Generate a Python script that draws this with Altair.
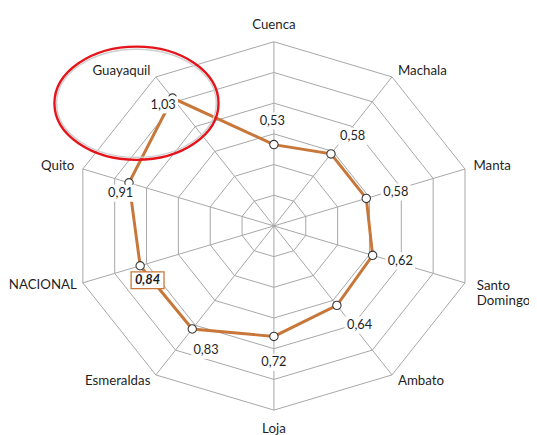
import altair as alt
import pandas as pd

# ---------------- data ----------------
categories = ["Cuenca", "Machala", "Manta", "Santo\nDomingo", "Ambato",
              "Loja", "Esmeraldas", "NACIONAL", "Quito", "Guayaquil"]
values = [0.53, 0.58, 0.58, 0.62, 0.64, 0.72, 0.83, 0.84, 0.91, 1.03]
value_labels = ["0,53", "0,58", "0,58", "0,62", "0,64",
                "0,72", "0,83", "0,84", "0,91", "1,03"]
grid_levels = [0.2, 0.4, 0.6, 0.8, 1.0, 1.2]
R_MAX = 1.2

# ---------------- styling (pixel offsets of labels) ----------------
W, H = 408, 374
PX_X = W / (2 * R_MAX)
PX_Y = H / (2 * R_MAX)
label_dx = [-1.7, 22, 30, 28, 23, 0, 14, 7.5, -8.5, -9.5]
label_dy = [-24, -18, -6.5, 5.6, 20, 26.4, 21.6, 14.7, 10.6, 6.9]
cat_align = ["center", "left", "left", "left", "left",
             "center", "right", "right", "right", "right"]
cat_dx = [0, 6, 8.6, 12, 6, 0, -5.5, -6, -8.6, -5.5]
cat_dy = [-16.6, -6, -2.5, 3, 6.7, 19, 6.7, 2.6, -2.5, -5.7]

FONT = "Lato"
TXT = "#1f1f1f"
GRID = "#a6a6a6"
ORANGE = "#c8773a"

n = len(categories)
df = pd.DataFrame({
    "cat": categories, "value": values, "label": value_labels,
    "idx": list(range(n)), "ldx": label_dx, "ldy": label_dy,
    "calign": cat_align, "cdx": cat_dx, "cdy": cat_dy,
})
line_df = pd.concat([df, df.iloc[[0]].assign(idx=n)], ignore_index=True)

grid_df = pd.DataFrame(
    [{"level": lv, "idx": k} for lv in grid_levels for k in range(n + 1)]
)

ANG = f"datum.idx * 2 * PI / {n}"
xs = alt.Scale(domain=[-R_MAX, R_MAX], nice=False, zero=False)
ys = alt.Scale(domain=[-R_MAX, R_MAX], nice=False, zero=False)


def X(f):
    return alt.X(f"{f}:Q", scale=xs, axis=None)


def Y(f):
    return alt.Y(f"{f}:Q", scale=ys, axis=None)


# grid decagons
grid = alt.Chart(grid_df).transform_calculate(
    gx=f"datum.level * sin({ANG})", gy=f"datum.level * cos({ANG})"
).mark_line(color=GRID, strokeWidth=1).encode(
    x=X("gx"), y=Y("gy"), detail="level:N", order="idx:Q"
)

# spokes
spokes = alt.Chart(df).transform_calculate(
    z="0", sx=f"{R_MAX} * sin({ANG})", sy=f"{R_MAX} * cos({ANG})"
).mark_rule(color=GRID, strokeWidth=1).encode(
    x=X("z"), y=Y("z"), x2="sx:Q", y2="sy:Q"
)


def pts_base(d):
    return alt.Chart(d).transform_calculate(
        px=f"datum.value * sin({ANG})", py=f"datum.value * cos({ANG})",
        lx=f"datum.value * sin({ANG}) + datum.ldx / {PX_X}",
        ly=f"datum.value * cos({ANG}) - datum.ldy / {PX_Y}",
    )


line = pts_base(line_df).mark_line(color=ORANGE, strokeWidth=3).encode(
    x=X("px"), y=Y("py"), order="idx:Q"
)

points = pts_base(df).mark_point(
    filled=True, fill="white", stroke="#3a3a3a", strokeWidth=1.1,
    size=72, opacity=1
).encode(x=X("px"), y=Y("py"))

box_path = "M-1,-0.58L1,-0.58L1,0.58L-1,0.58Z"
label_bg = pts_base(df).transform_filter("datum.cat != 'NACIONAL'").mark_point(
    shape=box_path, size=900, filled=True, fill="white", opacity=1,
    strokeWidth=0
).encode(x=X("lx"), y=Y("ly"))

nac_box = pts_base(df).transform_filter("datum.cat == 'NACIONAL'").mark_point(
    shape="M-1,-0.51L1,-0.51L1,0.51L-1,0.51Z", size=1116, filled=False,
    fill="white", fillOpacity=1, stroke=ORANGE, strokeWidth=1.3, opacity=1
).encode(x=X("lx"), y=Y("ly"))

labels = pts_base(df).transform_filter("datum.cat != 'NACIONAL'").mark_text(
    font=FONT, fontSize=13, color=TXT, align="center", baseline="middle"
).encode(x=X("lx"), y=Y("ly"), text="label:N")

nac_label = pts_base(df).transform_filter("datum.cat == 'NACIONAL'").mark_text(
    font=FONT, fontSize=13, color="#1a1a1a", align="center", baseline="middle",
    fontWeight="bold", fontStyle="italic"
).encode(x=X("lx"), y=Y("ly"), text="label:N")

cat_layers = []
for al in ["left", "center", "right"]:
    cat_layers.append(
        alt.Chart(df).transform_filter(f"datum.calign == '{al}'").transform_calculate(
            cx=f"{R_MAX} * sin({ANG}) + datum.cdx / {PX_X}",
            cy=f"{R_MAX} * cos({ANG}) - datum.cdy / {PX_Y}",
        ).mark_text(
            font=FONT, fontSize=13.5, color=TXT, align=al, baseline="middle",
            lineBreak="\n", lineHeight=16
        ).encode(x=X("cx"), y=Y("cy"), text="cat:N")
    )

# annotation ellipse around Guayaquil
U = 57.5
ell_size = (2 * U) ** 2


def ell_path(rx, ry, cx, cy):
    return (f"M{cx - rx:.3f},{cy:.3f} A{rx:.3f},{ry:.3f} 0 1,0 {cx + rx:.3f},{cy:.3f} "
            f"A{rx:.3f},{ry:.3f} 0 1,0 {cx - rx:.3f},{cy:.3f} Z")


guay = pts_base(df).transform_filter("datum.cat == 'Guayaquil'")
ell_shadow = guay.mark_point(
    shape=ell_path(1.41, 0.955, -0.637, 0.092), size=ell_size, filled=False,
    stroke="#cfcfcf", strokeWidth=1.5, opacity=1
).encode(x=X("px"), y=Y("py"))
ellipse = guay.mark_point(
    shape=ell_path(1.449, 1.0, -0.637, 0.092), size=ell_size, filled=False,
    stroke="#e5131a", strokeWidth=2.4, opacity=1
).encode(x=X("px"), y=Y("py"))

chart = alt.layer(
    grid, spokes, line, points, label_bg, nac_box, labels, nac_label,
    *cat_layers, ell_shadow, ellipse
).properties(
    width=W, height=H,
    autosize=alt.AutoSizeParams(type="none"),
    padding={"left": 66, "top": 31, "right": 55, "bottom": 22},
    background="white",
).configure_view(stroke=None)

chart.save("out.html", embed_options={"renderer": "svg", "actions": False})
